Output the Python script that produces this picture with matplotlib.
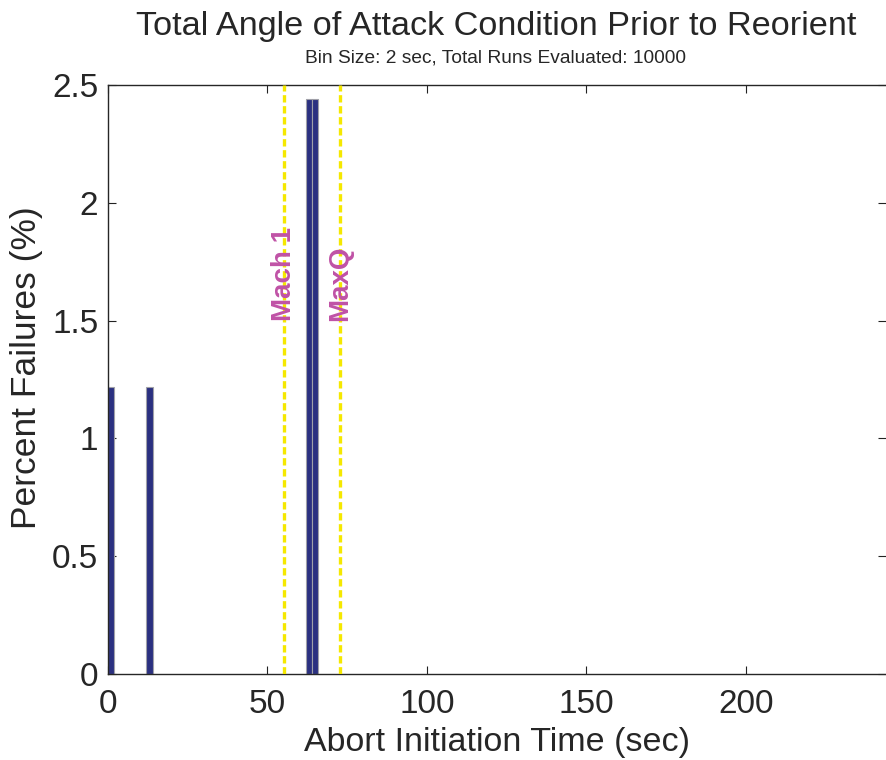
import numpy as np
import matplotlib
matplotlib.use('Agg')
import matplotlib.pyplot as plt

plt.rcParams['font.family'] = ['Liberation Sans', 'DejaVu Sans']

# histogram bins (left edge, sec) and percent failures
bin_left = [0, 12, 62, 64]
bin_width = 2
pct_fail = [1.22, 1.22, 2.44, 2.44]

# events
event_names = ['Mach 1', 'MaxQ']
event_times = [55.3, 72.7]

x_ticks = [0, 50, 100, 150, 200]
y_ticks = [0, 0.5, 1, 1.5, 2, 2.5]

fig = plt.figure(figsize=(8.86, 7.6), dpi=100)
ax = fig.add_axes([108/886, 1 - 674/760, 1 - 108/886, (674 - 85)/760])

ax.bar(bin_left, pct_fail, width=bin_width, align='edge',
       color='#2b3080', edgecolor='#a0a0a8', linewidth=0.8, zorder=2)

for name, t in zip(event_names, event_times):
    ax.axvline(t, color='#f5e800', linestyle='--', linewidth=2.4,
               dashes=(2.2, 1.1), zorder=3)
    ax.text(t, 1.5, name, rotation=90, ha='center', va='bottom',
            color='#c052a6', fontsize=20, fontweight='bold', zorder=4)

ax.set_xlim(0, 244)
ax.set_ylim(0, 2.5)
ax.set_xticks(x_ticks)
ax.set_yticks(y_ticks)
ax.set_yticklabels(['0', '0.5', '1', '1.5', '2', '2.5'])
ax.tick_params(direction='in', length=6, width=0.8, color='#222222',
               labelsize=24, labelcolor='#262626', top=True, right=True, pad=7)
ax.tick_params(axis='x', pad=11)
ax.spines['right'].set_visible(False)
for s in ['left', 'bottom', 'top']:
    ax.spines[s].set_color('#262626')
    ax.spines[s].set_linewidth(1.0)

ax.set_xlabel('Abort Initiation Time (sec)', fontsize=24.5, labelpad=5,
              color='#262626')
ax.set_ylabel('Percent Failures (%)', fontsize=25.5, color='#262626')
ax.yaxis.set_label_coords(-0.083, 0.52)

fig.text(0.56, 1 - 26/760, 'Total Angle of Attack Condition Prior to Reorient',
         ha='center', va='center', fontsize=24.7, color='#262626')
fig.text(0.5595, 1 - 58/760, 'Bin Size: 2 sec, Total Runs Evaluated: 10000',
         ha='center', va='center', fontsize=13.8, color='#262626')

plt.savefig('out.png', dpi=100)
